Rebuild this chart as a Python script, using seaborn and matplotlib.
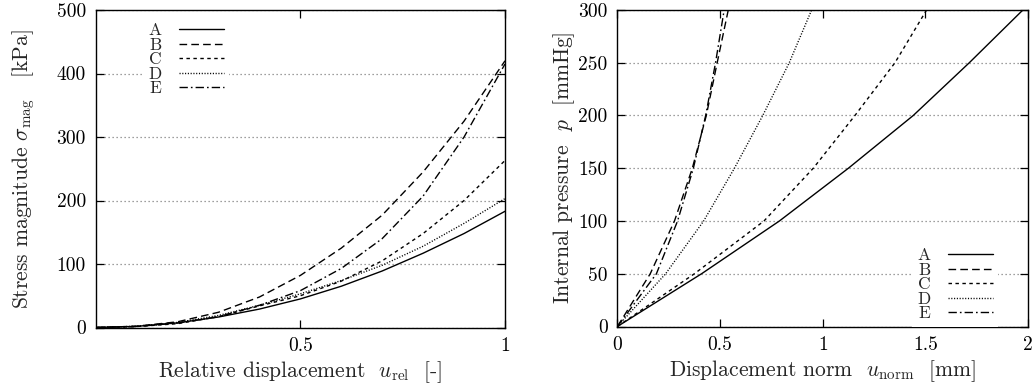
import numpy as np
import pandas as pd
import matplotlib
matplotlib.use("Agg")
import matplotlib.pyplot as plt
import seaborn as sns

# ---------------- data ----------------
series_names = ["A", "B", "C", "D", "E"]

# Left panel: stress magnitude vs relative displacement
u_rel = [0.0, 0.1, 0.2, 0.3, 0.4, 0.5, 0.6, 0.7, 0.8, 0.9, 1.0]
stress_A = [0, 1.8, 7.3, 16.5, 29, 45, 65, 89, 117, 148, 183]
stress_B = [0, 2, 9, 24, 48, 82, 125, 177, 245, 325, 420]
stress_C = [0, 1.5, 6, 17, 34, 50, 73, 105, 148, 200, 263]
stress_D = [0, 2, 8, 19, 35, 53, 74, 98, 128, 164, 203]
stress_E = [0, 1.5, 7, 17, 35, 58, 93, 140, 207, 300, 415]

# Right panel: internal pressure vs displacement norm
pressure = [0, 50, 100, 150, 200, 250, 300]
unorm_A = [0, 0.41, 0.789, 1.125, 1.441, 1.714, 1.975]
unorm_B = [0, 0.16, 0.278, 0.365, 0.433, 0.486, 0.54]
unorm_C = [0, 0.375, 0.714, 0.954, 1.157, 1.352, 1.506]
unorm_D = [0, 0.235, 0.42, 0.57, 0.708, 0.837, 0.946]
unorm_E = [0, 0.19, 0.293, 0.37, 0.43, 0.478, 0.52]

left_xticks = [0.5, 1.0]
left_xticklabels = ["0.5", "1"]
left_yticks = [0, 100, 200, 300, 400, 500]
right_xticks = [0, 0.5, 1.0, 1.5, 2.0]
right_xticklabels = ["0", "0.5", "1", "1.5", "2"]
right_yticks = [0, 50, 100, 150, 200, 250, 300]

# ---------------- style ----------------
sns.set_theme(style="ticks")
plt.rcParams["font.family"] = ["cmr10", "DejaVu Serif"]
plt.rcParams["mathtext.fontset"] = "cm"
plt.rcParams["axes.formatter.use_mathtext"] = True
plt.rcParams["axes.unicode_minus"] = False

line_styles = {
    "A": "-",
    "B": (0, (5.5, 3)),
    "C": (0, (2.5, 2.5)),
    "D": (0, (0.8, 1.2)),
    "E": (0, (6, 2.2, 1.2, 2.2)),
}

left_df = pd.DataFrame({"u": u_rel, "A": stress_A, "B": stress_B, "C": stress_C,
                        "D": stress_D, "E": stress_E})
right_df = pd.DataFrame({"p": pressure, "A": unorm_A, "B": unorm_B, "C": unorm_C,
                         "D": unorm_D, "E": unorm_E})

fig = plt.figure(figsize=(10.34, 3.87), dpi=100)
axL = fig.add_axes([95.7 / 1034, (387 - 327.5) / 387, 409.3 / 1034, 317.5 / 387])
axR = fig.add_axes([617.4 / 1034, (387 - 326.5) / 387, 410.6 / 1034, 316.5 / 387])

for name in series_names:
    sns.lineplot(data=left_df, x="u", y=name, ax=axL, color="black", lw=1.0,
                 linestyle=line_styles[name], label=name, sort=False)
    sns.lineplot(data=right_df, x=name, y="p", ax=axR, color="black", lw=1.0,
                 linestyle=line_styles[name], label=name, sort=False)

tick_fs = 14
label_fs = 15.5
for ax in (axL, axR):
    ax.set_axisbelow(True)
    ax.yaxis.grid(True, color="#808080", linestyle=(0, (1, 2.2)), lw=0.9)
    ax.xaxis.grid(False)
    ax.tick_params(direction="in", length=6, width=0.9, top=True, right=True,
                   labelsize=tick_fs, colors="black", pad=7)
    for sp in ax.spines.values():
        sp.set_color("black")
        sp.set_linewidth(1.0)

axL.set_xlim(0, 1)
axL.set_ylim(0, 500)
axL.set_xticks(left_xticks)
axL.set_xticklabels(left_xticklabels)
axL.set_yticks(left_yticks)
axL.set_yticklabels([str(v) for v in left_yticks])
axL.set_xlabel(r"Relative displacement  $u_\mathrm{rel}$  [-]", fontsize=label_fs, labelpad=3)
axL.set_ylabel(r"Stress magnitude $\sigma_\mathrm{mag}$   [kPa]", fontsize=label_fs, labelpad=14)

axR.set_xlim(0, 2)
axR.set_ylim(0, 300)
axR.set_xticks(right_xticks)
axR.set_xticklabels(right_xticklabels)
axR.set_yticks(right_yticks)
axR.set_yticklabels([str(v) for v in right_yticks])
axR.set_xlabel(r"Displacement norm  $u_\mathrm{norm}$  [mm]", fontsize=label_fs, labelpad=3)
axR.set_ylabel(r"Internal pressure  $p$  [mmHg]", fontsize=label_fs, labelpad=1)

leg_kw = dict(markerfirst=False, frameon=True, fancybox=False, framealpha=1.0,
              facecolor="white", edgecolor="white", fontsize=12.5, handlelength=2.6,
              handletextpad=1.0, labelspacing=-0.05, borderpad=0.3, borderaxespad=0)
legL = axL.legend(loc="upper left", bbox_to_anchor=(0.115, 0.975), **leg_kw)
legR = axR.legend(loc="lower right", bbox_to_anchor=(0.928, 0.0), **leg_kw)
for leg in (legL, legR):
    leg.set_zorder(5)
    leg.get_frame().set_linewidth(0)

fig.savefig("out.png", dpi=100)
